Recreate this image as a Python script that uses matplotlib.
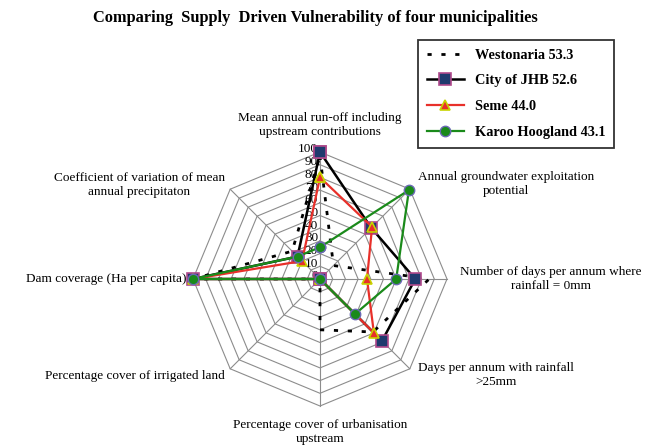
import numpy as np
import matplotlib
matplotlib.use('Agg')
import matplotlib.pyplot as plt
from matplotlib.lines import Line2D

plt.rcParams['font.family'] = ['Liberation Serif', 'DejaVu Serif']

# axes of the radar, clockwise from the top
categories = [
    'Mean annual run-off including\nupstream contributions',
    'Annual groundwater exploitation\npotential',
    'Number of days per annum where\nrainfall = 0mm',
    'Days per annum with rainfall\n>25mm',
    'Percentage cover of urbanisation\nupstream',
    'Percentage cover of irrigated land',
    'Dam coverage (Ha per capita)',
    'Coefficient of variation of mean\nannual precipitaton',
]

westonaria = [97, 15, 86, 59, 40, 0, 100, 31]
city_jhb = [100, 57, 75, 69, 0, 0, 100, 25]
seme = [80, 58, 37, 60, 0, 0, 100, 20]
karoo = [25, 99, 60, 39, 0, 0, 100, 25]

series_names = ['Westonaria 53.3', 'City of JHB 52.6', 'Seme 44.0', 'Karoo Hoogland 43.1']
tick_values = [0, 10, 20, 30, 40, 50, 60, 70, 80, 90, 100]

# figure geometry (pixels) -> data units of 1 = value 100
W, H = 650, 448
cx, cy, rad = 320, 279, 127

fig = plt.figure(figsize=(6.5, 4.48), dpi=100)
ax = fig.add_axes([0, 0, 1, 1])
ax.set_xlim(-cx / rad, (W - cx) / rad)
ax.set_ylim(-(H - cy) / rad, cy / rad)
ax.axis('off')

n = len(categories)
ang = np.deg2rad(90 - 45 * np.arange(n))


def to_xy(vals):
    r = np.asarray(vals, dtype=float) / 100.0
    x = r * np.cos(ang)
    y = r * np.sin(ang)
    return np.append(x, x[0]), np.append(y, y[0])


# grid: octagon rings and spokes
grid_c = '#8c8c8c'
for v in tick_values[1:]:
    gx, gy = to_xy([v] * n)
    ax.plot(gx, gy, color=grid_c, lw=0.8, zorder=1)
for a in ang:
    ax.plot([0, np.cos(a)], [0, np.sin(a)], color=grid_c, lw=0.8, zorder=1)

# value labels along the top axis
for v in tick_values:
    ax.text(-0.015, v / 100.0 + 0.02, str(v), ha='right', va='center',
            fontsize=9.5, zorder=2)

# series
x, y = to_xy(westonaria)
ax.plot(x, y, color='black', lw=2, ls=(0, (1.5, 3.5)), zorder=3)
x, y = to_xy(city_jhb)
ax.plot(x, y, color='black', lw=1.8, marker='s', ms=8,
        mfc='#1f3a6e', mec='#b04a8c', mew=1.2, zorder=4)
x, y = to_xy(seme)
ax.plot(x, y, color='#e8302a', lw=1.6, marker='^', ms=7,
        mfc='#e8302a', mec='#c8d400', mew=1.2, zorder=5)
x, y = to_xy(karoo)
ax.plot(x, y, color='#1a8a1a', lw=1.6, marker='o', ms=7.5,
        mfc='#1a8a1a', mec='#6a6ab4', mew=1.0, zorder=6)

# category labels (pixel positions -> data units)
lab_pos = [
    (320, 125, 'center'),
    (418, 184, 'left'),
    (642, 279, 'right'),
    (418, 375, 'left'),
    (320, 432, 'center'),
    (225, 376, 'right'),
    (186, 279, 'right'),
    (225, 185, 'right'),
]
for txt, (px, py, ha) in zip(categories, lab_pos):
    ax.text((px - cx) / rad, (cy - py) / rad, txt, ha=ha, va='center',
            multialignment='center', fontsize=9.5)

fig.text(0.485, 1 - 18 / H, 'Comparing  Supply  Driven Vulnerability of four municipalities',
         ha='center', va='center', fontsize=11.8, fontweight='bold')

handles = [
    Line2D([], [], color='black', lw=2, ls=(0, (1.5, 3.5))),
    Line2D([], [], color='black', lw=1.8, marker='s', ms=8,
           mfc='#1f3a6e', mec='#b04a8c', mew=1.2),
    Line2D([], [], color='#e8302a', lw=1.6, marker='^', ms=7,
           mfc='#e8302a', mec='#c8d400', mew=1.2),
    Line2D([], [], color='#1a8a1a', lw=1.6, marker='o', ms=7.5,
           mfc='#1a8a1a', mec='#6a6ab4', mew=1.0),
]
leg = fig.legend(handles, series_names, loc='upper left',
                 bbox_to_anchor=(418 / W, 1 - 40 / H),
                 prop={'weight': 'bold', 'size': 10.3},
                 frameon=True, fancybox=False, edgecolor='black',
                 handlelength=2.6, borderpad=0.6, labelspacing=0.9,
                 borderaxespad=0)
leg.get_frame().set_linewidth(1.3)

fig.savefig('out.png', dpi=100)
